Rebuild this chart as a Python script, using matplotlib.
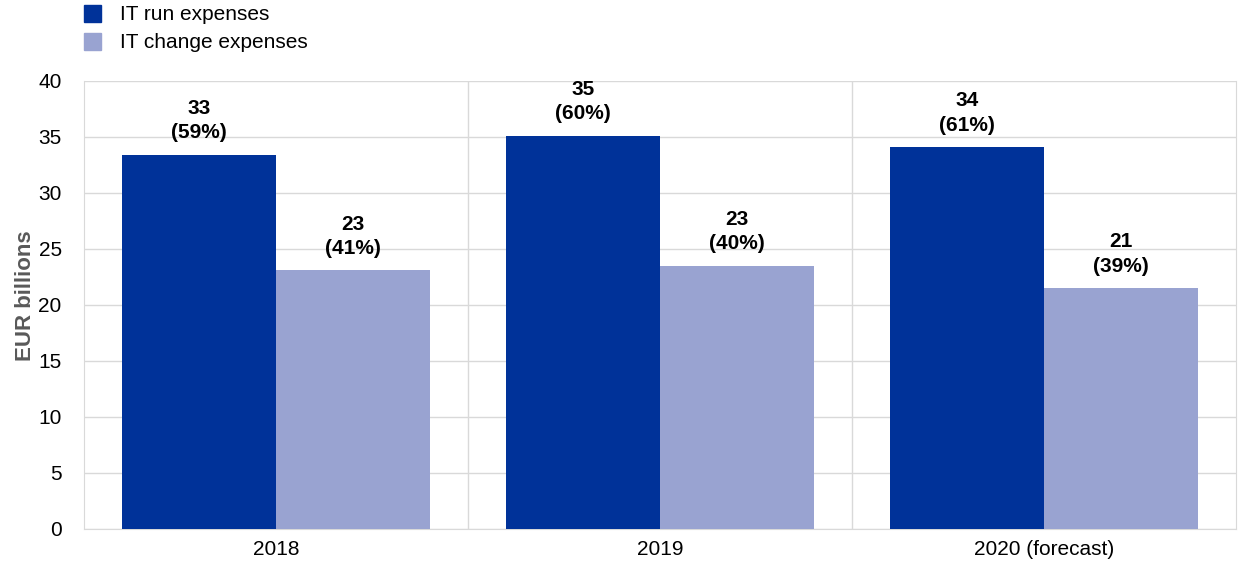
import numpy as np
import matplotlib
matplotlib.use('Agg')
import matplotlib.pyplot as plt
from matplotlib.patches import Rectangle

plt.rcParams['font.family'] = ['Liberation Sans', 'DejaVu Sans']

categories = ['2018', '2019', '2020 (forecast)']
run_values = [33.4, 35.1, 34.1]
change_values = [23.1, 23.5, 21.5]
run_labels = ['33\n(59%)', '35\n(60%)', '34\n(61%)']
change_labels = ['23\n(41%)', '23\n(40%)', '21\n(39%)']

RUN_COLOR = '#003299'
CHANGE_COLOR = '#99A3D1'
GRID_COLOR = '#D9D9D9'
FS = 15

fig = plt.figure(figsize=(12.4, 5.74), dpi=100)
ax = fig.add_axes([0.0677, 0.0784, 0.9290, 0.7805])

x = np.arange(len(categories))
w = 0.4
b1 = ax.bar(x - w / 2, run_values, w, color=RUN_COLOR, zorder=3, label='IT run expenses')
b2 = ax.bar(x + w / 2, change_values, w, color=CHANGE_COLOR, zorder=3, label='IT change expenses')

for bars, labels in ((b1, run_labels), (b2, change_labels)):
    for rect, lab in zip(bars, labels):
        ax.annotate(lab, (rect.get_x() + rect.get_width() / 2, rect.get_height()),
                    xytext=(0, 9), textcoords='offset points', ha='center', va='bottom',
                    fontsize=FS, fontweight='bold', linespacing=1.35)

ax.set_xlim(-0.5, 2.5)
ax.set_ylim(0, 40)
ax.set_yticks(range(0, 41, 5))
ax.set_xticks(x)
ax.set_xticklabels(categories)
ax.tick_params(axis='both', length=0, labelsize=FS, pad=8)
ax.tick_params(axis='y', pad=16)
ax.yaxis.grid(True, color=GRID_COLOR, lw=1, zorder=0)
for xv in [0.5, 1.5]:
    ax.axvline(xv, color=GRID_COLOR, lw=1, zorder=0)
for s in ax.spines.values():
    s.set_color(GRID_COLOR)
ax.spines['top'].set_visible(False)
ax.set_ylabel('EUR billions', fontsize=16, fontweight='bold', color='#595959')
ax.yaxis.set_label_coords(-0.042, 0.52)

# legend drawn at top left
for i, (lab, col) in enumerate([('IT run expenses', RUN_COLOR), ('IT change expenses', CHANGE_COLOR)]):
    y0 = 1 - (5 + 28 * i) / 574
    fig.patches.append(Rectangle((84 / 1240, y0 - 17 / 574), 17 / 1240, 17 / 574,
                                 transform=fig.transFigure, color=col))
    fig.text(120 / 1240, y0 - 9.5 / 574, lab, fontsize=FS, va='center', ha='left')

fig.savefig('out.png', dpi=100)
